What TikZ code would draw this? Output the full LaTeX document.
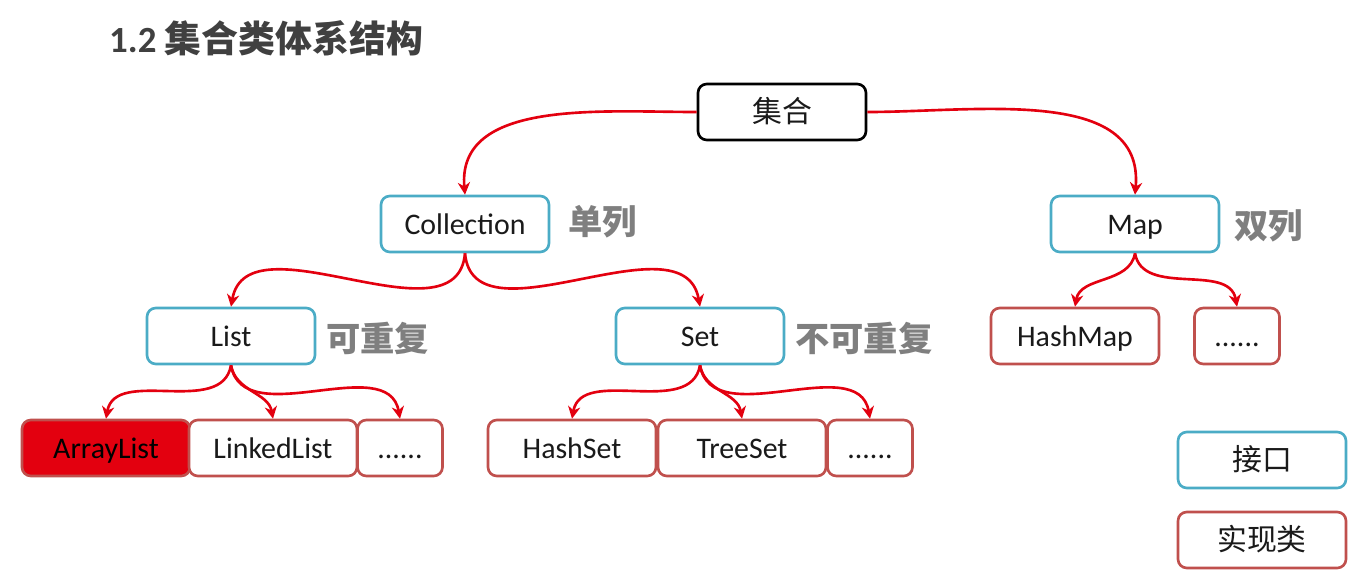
\documentclass[tikz,border=0pt]{standalone}
\usepackage{fontspec}
\setmainfont{Carlito}
\newfontfamily\cjk{Noto Sans CJK SC}
\usetikzlibrary{arrows.meta}
\definecolor{ifaceblue}{HTML}{4BACC6}
\definecolor{implred}{HTML}{C0504D}
\definecolor{linkred}{HTML}{E3000F}
\definecolor{notegray}{HTML}{7F7F7F}
\definecolor{titlegray}{HTML}{404040}
\definecolor{boxtext}{HTML}{1A1A1A}

\begin{document}
\begin{tikzpicture}[x=0.02cm, y=-0.02cm,
    box/.style={draw, fill=white, rounded corners=5pt, text=boxtext,
                minimum width=3.36cm, minimum height=1.12cm, inner sep=0pt,
                text height=2.9ex, text depth=0.5ex,
                font=\fontsize{17}{20}\selectfont, line width=1.5pt},
    root/.style={box, draw=black},
    iface/.style={box, draw=ifaceblue},
    impl/.style={box, draw=implred},
    more/.style={impl, minimum width=1.7cm},
    note/.style={anchor=west, text=notegray,
                 font=\cjk\bfseries\fontsize{19.5}{22}\selectfont},
    link/.style={draw=linkred, line width=1.5pt, -{Stealth[length=7pt,width=7pt]}},
]
\useasboundingbox (0,0) rectangle (1358,572);

% Titel
\node[anchor=west, text=titlegray, font=\bfseries\fontsize{21}{24}\selectfont]
    (title) at (103,38) {1.2 {\cjk 集合类体系结构}};

% Wurzel
\node[root] (coll0) at (782,112) {\cjk 集合};

% Schnittstellen
\node[iface] (coll) at (465,224) {Collection};
\node[iface] (map) at (1135,224) {Map};
\node[iface] (list) at (231,336) {List};
\node[iface] (set) at (700,336) {Set};

\node[note] (n1) at (562,222) {单列};
\node[note] (n2) at (1228,226) {双列};
\node[note] (n3) at (320,338) {可重复};
\node[note] (n4) at (789,338) {不可重复};

% Implementierungen
\node[impl, fill=linkred, text=black] (alist) at (106,448) {ArrayList};
\node[impl] (llist) at (273,448) {LinkedList};
\node[more] (lmore) at (400,448) {......};
\node[impl] (hset) at (572,448) {HashSet};
\node[impl] (tset) at (742,448) {TreeSet};
\node[more] (smore) at (870,448) {......};
\node[impl] (hmap) at (1075,336) {HashMap};
\node[more] (mmore) at (1237,336) {......};

% Legende
\node[iface] (leg1) at (1262,460) {\cjk 接口};
\node[impl] (leg2) at (1262,540) {\cjk 实现类};

% Pfeile
\draw[link] (coll0.west) to[out=180, in=95] (coll.north);
\draw[link] (coll0.east) to[out=0, in=85] (map.north);
\draw[link] (coll.south) to[out=-95, in=80] (list.north);
\draw[link] (coll.south) to[out=-85, in=100] (set.north);
\draw[link] (list.south) to[out=-100, in=80] (alist.north);
\draw[link] (list.south) to[out=-80, in=100] (llist.north);
\draw[link] (list.south) to[out=-80, in=100] (lmore.north);
\draw[link] (set.south) to[out=-100, in=80] (hset.north);
\draw[link] (set.south) to[out=-80, in=100] (tset.north);
\draw[link] (set.south) to[out=-80, in=100] (smore.north);
\draw[link] (map.south) to[out=-100, in=80] (hmap.north);
\draw[link] (map.south) to[out=-80, in=100] (mmore.north);

\end{tikzpicture}
\end{document}
